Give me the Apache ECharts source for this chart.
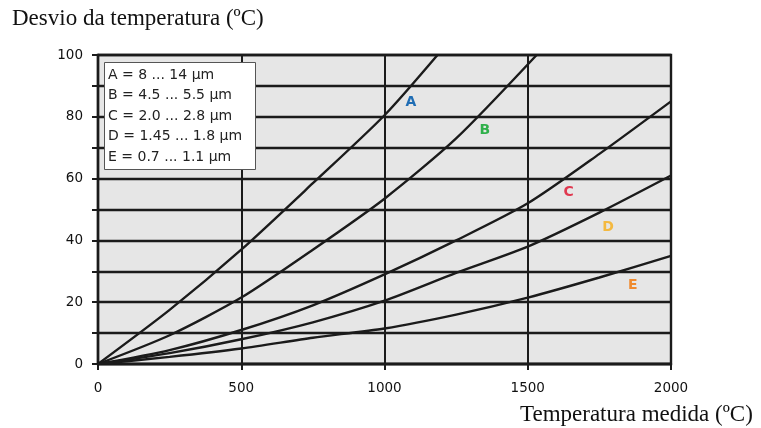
<!DOCTYPE html>
<html>
<head>
<meta charset="utf-8">
<script src="https://cdn.jsdelivr.net/npm/echarts@6/dist/echarts.min.js"></script>
<style>
  html, body { margin: 0; padding: 0; background: #ffffff; }
  #chart { width: 761px; height: 428px; }
</style>
</head>
<body>
<div id="chart"></div>
<script>
// dados: [temperatura medida, desvio]
var curvaA = [[0, 0], [250, 17.5], [500, 37], [750, 58.5], [1000, 80.5], [1185, 100]];
var curvaB = [[0, 0], [250, 9.3], [500, 21.5], [750, 37], [1000, 53.5], [1250, 73], [1531, 100]];
var curvaC = [[0, 0], [250, 4.5], [500, 11], [750, 19], [1000, 29], [1250, 40], [1500, 52], [1750, 68], [2000, 85]];
var curvaD = [[0, 0], [250, 3.5], [500, 8], [750, 13.5], [1000, 20.5], [1250, 29.5], [1500, 38], [1750, 49], [2000, 61]];
var curvaE = [[0, 0], [250, 2.3], [500, 5], [750, 8.5], [1000, 11.5], [1250, 16], [1500, 21.5], [1750, 28], [2000, 35]];

var nomesCurvas = ['A', 'B', 'C', 'D', 'E'];
var faixas = ['8 ... 14 µm', '4.5 ... 5.5 µm', '2.0 ... 2.8 µm', '1.45 ... 1.8 µm', '0.7 ... 1.1 µm'];
var cores = ['#1f6db4', '#2fb04a', '#e0384f', '#f4b940', '#ef8a2e'];
// posição das letras junto às curvas (coordenadas do gráfico)
var letrasPos = [[1092, 84.6], [1350, 75.5], [1643, 55.4], [1780, 44.3], [1867, 25.5]];

var xTicks = [0, 500, 1000, 1500, 2000];
var yTicks = [0, 20, 40, 60, 80, 100];

var fonteSans = 'DejaVu Sans';

var myChart = echarts.init(document.getElementById('chart'));

var curvas = [curvaA, curvaB, curvaC, curvaD, curvaE];
var series = [];
for (var i = 0; i < curvas.length; i++) {
	series.push({
		name : nomesCurvas[i],
		type : 'line',
		data : curvas[i],
		smooth : 0.25,
		symbol : 'none',
		lineStyle : { color : '#1b1b1b', width : 2.4 },
		z : 3,
		markPoint : {
			symbol : 'circle',
			symbolSize : 0,
			data : [{ coord : letrasPos[i], value : nomesCurvas[i] }],
			label : {
				show : true,
				position : 'inside',
				formatter : nomesCurvas[i],
				color : cores[i],
				fontFamily : fonteSans,
				fontWeight : 'bold',
				fontSize : 14
			}
		}
	});
}

// texto da caixa de legenda
var legendaTexto = [];
for (var j = 0; j < nomesCurvas.length; j++) {
	legendaTexto.push('{c' + j + '|' + nomesCurvas[j] + '} = ' + faixas[j]);
}
var richLegenda = {};
for (var k = 0; k < cores.length; k++) {
	richLegenda['c' + k] = { color : cores[k], fontSize : 14, fontFamily : fonteSans };
}

var option = {
	animation : false,
	backgroundColor : '#ffffff',
	grid : {
		left : 98,
		right : 90,
		top : 55,
		bottom : 64,
		show : true,
		backgroundColor : '#e6e6e6',
		borderColor : '#1b1b1b',
		borderWidth : 2.4
	},
	xAxis : {
		type : 'value',
		min : 0,
		max : 2000,
		interval : 500,
		axisLine : { show : true, lineStyle : { color : '#1b1b1b', width : 2.4 } },
		axisTick : { show : true, length : 6, lineStyle : { color : '#1b1b1b', width : 2 } },
		axisLabel : {
			margin : 17,
			color : '#111',
			fontFamily : fonteSans,
			fontSize : 13.5,
			formatter : function (v) { return xTicks.indexOf(v) >= 0 ? String(v) : ''; }
		},
		splitLine : { show : true, lineStyle : { color : '#1b1b1b', width : 2 } }
	},
	yAxis : {
		type : 'value',
		min : 0,
		max : 100,
		interval : 10,
		axisLine : { show : true, lineStyle : { color : '#1b1b1b', width : 2.4 } },
		axisTick : { show : true, length : 6, lineStyle : { color : '#1b1b1b', width : 2 } },
		axisLabel : {
			margin : 15,
			color : '#111',
			fontFamily : fonteSans,
			fontSize : 13.5,
			formatter : function (v) { return yTicks.indexOf(v) >= 0 ? String(v) : ''; }
		},
		splitLine : { show : true, lineStyle : { color : '#1b1b1b', width : 2.4 } }
	},
	graphic : [
		{
			type : 'text',
			left : 12,
			top : 7,
			style : {
				text : 'Desvio da temperatura (ºC)',
				fontFamily : 'Liberation Serif',
				fontSize : 23,
				fill : '#111'
			}
		},
		{
			type : 'text',
			left : 520,
			top : 403,
			style : {
				text : 'Temperatura medida (ºC)',
				fontFamily : 'Liberation Serif',
				fontSize : 23,
				fill : '#111'
			}
		},
		{
			type : 'rect',
			left : 104,
			top : 62,
			z : 10,
			shape : { width : 151, height : 107 },
			style : { fill : '#ffffff', stroke : '#555', lineWidth : 1 }
		},
		{
			type : 'text',
			left : 108,
			top : 65,
			z : 11,
			style : {
				text : legendaTexto.join('\n'),
				fontFamily : fonteSans,
				fontSize : 14,
				lineHeight : 20.5,
				fill : '#222',
				rich : richLegenda
			}
		}
	],
	series : series
};

myChart.setOption(option);
</script>
</body>
</html>
